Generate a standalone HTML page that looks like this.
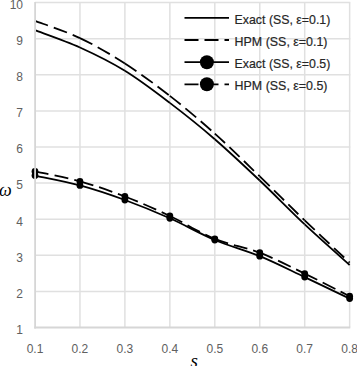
<!DOCTYPE html><html><head><meta charset="utf-8"><style>html,body{margin:0;padding:0;background:#fff;overflow:hidden}svg{display:block}</style></head><body><svg width="357" height="366" viewBox="0 0 357 366"><rect width="357" height="366" fill="#fff"/><g stroke="#e0e0e0" stroke-width="1.50"><line x1="35.0" y1="291.40" x2="350.3" y2="291.40"/><line x1="35.0" y1="255.30" x2="350.3" y2="255.30"/><line x1="35.0" y1="219.20" x2="350.3" y2="219.20"/><line x1="35.0" y1="183.10" x2="350.3" y2="183.10"/><line x1="35.0" y1="147.00" x2="350.3" y2="147.00"/><line x1="35.0" y1="110.90" x2="350.3" y2="110.90"/><line x1="35.0" y1="74.80" x2="350.3" y2="74.80"/><line x1="35.0" y1="38.70" x2="350.3" y2="38.70"/><line x1="35.0" y1="2.60" x2="350.3" y2="2.60"/><line x1="79.95" y1="2.60" x2="79.95" y2="327.50"/><line x1="124.90" y1="2.60" x2="124.90" y2="327.50"/><line x1="169.85" y1="2.60" x2="169.85" y2="327.50"/><line x1="214.80" y1="2.60" x2="214.80" y2="327.50"/><line x1="259.75" y1="2.60" x2="259.75" y2="327.50"/><line x1="304.70" y1="2.60" x2="304.70" y2="327.50"/><line x1="349.65" y1="2.60" x2="349.65" y2="327.50"/></g><g font-family="Liberation Sans, sans-serif" font-size="12" fill="#606060"><text x="23" y="333.80" text-anchor="end">1</text><text x="23" y="297.70" text-anchor="end">2</text><text x="23" y="261.60" text-anchor="end">3</text><text x="23" y="225.50" text-anchor="end">4</text><text x="23" y="189.40" text-anchor="end">5</text><text x="23" y="153.30" text-anchor="end">6</text><text x="23" y="117.20" text-anchor="end">7</text><text x="23" y="81.10" text-anchor="end">8</text><text x="23" y="45.00" text-anchor="end">9</text><text x="23" y="8.90" text-anchor="end">10</text><text x="35.00" y="352.8" text-anchor="middle">0.1</text><text x="79.95" y="352.8" text-anchor="middle">0.2</text><text x="124.90" y="352.8" text-anchor="middle">0.3</text><text x="169.85" y="352.8" text-anchor="middle">0.4</text><text x="214.80" y="352.8" text-anchor="middle">0.5</text><text x="259.75" y="352.8" text-anchor="middle">0.6</text><text x="304.70" y="352.8" text-anchor="middle">0.7</text><text x="349.65" y="352.8" text-anchor="middle">0.8</text></g><path d="M35.00,30.20C42.49,33.08 64.97,40.73 79.95,47.50" fill="none" stroke="#000" stroke-width="1.80"/><path d="M79.95,47.50C94.93,54.27 109.92,61.57 124.90,70.80" fill="none" stroke="#000" stroke-width="1.80"/><path d="M124.90,70.80C139.88,80.03 154.87,91.50 169.85,102.90" fill="none" stroke="#000" stroke-width="1.80"/><path d="M169.85,102.90C184.83,114.30 199.82,126.27 214.80,139.20" fill="none" stroke="#000" stroke-width="1.80"/><path d="M214.80,139.20C229.78,152.13 244.77,166.30 259.75,180.50" fill="none" stroke="#000" stroke-width="1.80"/><path d="M259.75,180.50C274.73,194.70 289.72,210.32 304.70,224.40" fill="none" stroke="#000" stroke-width="1.80"/><path d="M304.70,224.40C319.68,238.48 342.16,258.23 349.65,265.00" fill="none" stroke="#000" stroke-width="1.80"/><path d="M35.00,20.90C42.49,23.77 64.97,31.00 79.95,38.10" fill="none" stroke="#000" stroke-width="1.80" stroke-dasharray="14,6"/><path d="M79.95,38.10C94.93,45.20 109.92,53.87 124.90,63.50" fill="none" stroke="#000" stroke-width="1.80" stroke-dasharray="14,6"/><path d="M124.90,63.50C139.88,73.13 154.87,84.22 169.85,95.90" fill="none" stroke="#000" stroke-width="1.80" stroke-dasharray="14,6"/><path d="M169.85,95.90C184.83,107.58 199.82,120.18 214.80,133.60" fill="none" stroke="#000" stroke-width="1.80" stroke-dasharray="14,6"/><path d="M214.80,133.60C229.78,147.02 244.77,161.93 259.75,176.40" fill="none" stroke="#000" stroke-width="1.80" stroke-dasharray="14,6"/><path d="M259.75,176.40C274.73,190.87 289.72,206.03 304.70,220.40" fill="none" stroke="#000" stroke-width="1.80" stroke-dasharray="14,6"/><path d="M304.70,220.40C319.68,234.77 342.16,255.57 349.65,262.60" fill="none" stroke="#000" stroke-width="1.80" stroke-dasharray="14,6"/><path d="M35.00,175.60C42.49,177.23 64.97,181.33 79.95,185.40" fill="none" stroke="#000" stroke-width="1.80"/><path d="M79.95,185.40C94.93,189.47 109.92,194.52 124.90,200.00" fill="none" stroke="#000" stroke-width="1.80"/><path d="M124.90,200.00C139.88,205.48 154.87,211.63 169.85,218.30" fill="none" stroke="#000" stroke-width="1.80"/><path d="M169.85,218.30C184.83,224.97 199.82,233.68 214.80,240.00" fill="none" stroke="#000" stroke-width="1.80"/><path d="M214.80,240.00C229.78,246.32 244.77,250.02 259.75,256.20" fill="none" stroke="#000" stroke-width="1.80"/><path d="M259.75,256.20C274.73,262.38 289.72,270.03 304.70,277.10" fill="none" stroke="#000" stroke-width="1.80"/><path d="M304.70,277.10C319.68,284.17 342.16,295.02 349.65,298.60" fill="none" stroke="#000" stroke-width="1.80"/><circle cx="35.00" cy="175.60" r="3.4" fill="#000"/><circle cx="79.95" cy="185.40" r="3.4" fill="#000"/><circle cx="124.90" cy="200.00" r="3.4" fill="#000"/><circle cx="169.85" cy="218.30" r="3.4" fill="#000"/><circle cx="214.80" cy="240.00" r="3.4" fill="#000"/><circle cx="259.75" cy="256.20" r="3.4" fill="#000"/><circle cx="304.70" cy="277.10" r="3.4" fill="#000"/><circle cx="349.65" cy="298.60" r="3.4" fill="#000"/><path d="M35.00,171.40C42.49,173.07 64.97,177.22 79.95,181.40" fill="none" stroke="#000" stroke-width="1.80" stroke-dasharray="14,6"/><path d="M79.95,181.40C94.93,185.58 109.92,190.73 124.90,196.50" fill="none" stroke="#000" stroke-width="1.80" stroke-dasharray="14,6"/><path d="M124.90,196.50C139.88,202.27 154.87,208.93 169.85,216.00" fill="none" stroke="#000" stroke-width="1.80" stroke-dasharray="14,6"/><path d="M169.85,216.00C184.83,223.07 199.82,232.78 214.80,238.90" fill="none" stroke="#000" stroke-width="1.80" stroke-dasharray="14,6"/><path d="M214.80,238.90C229.78,245.02 244.77,246.92 259.75,252.70" fill="none" stroke="#000" stroke-width="1.80" stroke-dasharray="14,6"/><path d="M259.75,252.70C274.73,258.48 289.72,266.35 304.70,273.60" fill="none" stroke="#000" stroke-width="1.80" stroke-dasharray="14,6"/><path d="M304.70,273.60C319.68,280.85 342.16,292.43 349.65,296.20" fill="none" stroke="#000" stroke-width="1.80" stroke-dasharray="14,6"/><circle cx="35.00" cy="171.40" r="3.4" fill="#000"/><circle cx="79.95" cy="181.40" r="3.4" fill="#000"/><circle cx="124.90" cy="196.50" r="3.4" fill="#000"/><circle cx="169.85" cy="216.00" r="3.4" fill="#000"/><circle cx="214.80" cy="238.90" r="3.4" fill="#000"/><circle cx="259.75" cy="252.70" r="3.4" fill="#000"/><circle cx="304.70" cy="273.60" r="3.4" fill="#000"/><circle cx="349.65" cy="296.20" r="3.4" fill="#000"/><g stroke="#d6d6d6" stroke-width="1.8"><line x1="35.1" y1="2.10" x2="35.1" y2="328.40"/><line x1="34.2" y1="327.50" x2="350.25" y2="327.50"/></g><line x1="184.5" y1="17.9" x2="229.0" y2="17.9" stroke="#000" stroke-width="1.80"/><text x="234.6" y="23.6" font-family="Liberation Sans, sans-serif" font-size="13" fill="#262626" stroke="#262626" stroke-width="0.2" textLength="95.7" lengthAdjust="spacingAndGlyphs">Exact (SS, ε=0.1)</text><line x1="184.5" y1="40.0" x2="229.0" y2="40.0" stroke="#000" stroke-width="1.80" stroke-dasharray="14,6"/><text x="234.6" y="45.8" font-family="Liberation Sans, sans-serif" font-size="13" fill="#262626" stroke="#262626" stroke-width="0.2" textLength="92.9" lengthAdjust="spacingAndGlyphs">HPM (SS, ε=0.1)</text><line x1="184.5" y1="62.2" x2="229.0" y2="62.2" stroke="#000" stroke-width="1.80"/><circle cx="206.9" cy="62.2" r="7" fill="#000"/><text x="234.6" y="67.9" font-family="Liberation Sans, sans-serif" font-size="13" fill="#262626" stroke="#262626" stroke-width="0.2" textLength="95.7" lengthAdjust="spacingAndGlyphs">Exact (SS, ε=0.5)</text><line x1="184.5" y1="84.3" x2="229.0" y2="84.3" stroke="#000" stroke-width="1.80" stroke-dasharray="14,6"/><circle cx="206.9" cy="84.3" r="7" fill="#000"/><text x="234.6" y="90.0" font-family="Liberation Sans, sans-serif" font-size="13" fill="#262626" stroke="#262626" stroke-width="0.2" textLength="92.9" lengthAdjust="spacingAndGlyphs">HPM (SS, ε=0.5)</text><text x="190.5" y="367" font-family="Liberation Serif, serif" font-style="italic" font-size="19" fill="#000">s</text><text x="-1.0" y="195.9" font-family="Liberation Serif, serif" font-style="italic" font-size="18" fill="#000">ω</text></svg></body></html>
